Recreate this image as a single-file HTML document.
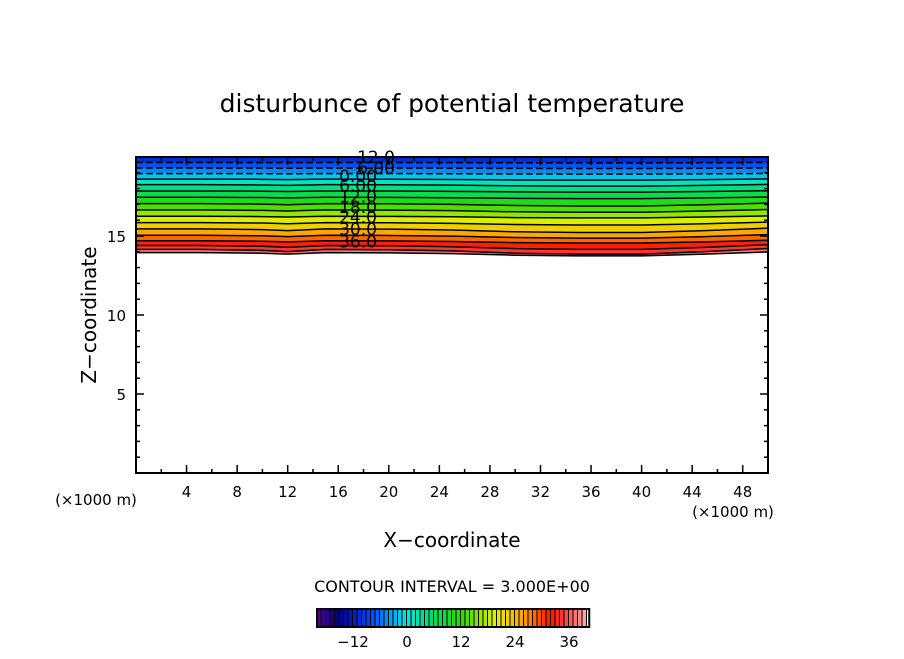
<!DOCTYPE html>
<html><head><meta charset="utf-8"><style>
body{margin:0;background:#fff;}
svg text{font-family:"DejaVu Sans","Liberation Sans",sans-serif;fill:#000;}
</style></head><body>
<svg id="chart" width="904" height="654" viewBox="0 0 904 654" xmlns="http://www.w3.org/2000/svg">
<text x="452" y="112" font-size="25" text-anchor="middle">disturbunce of potential temperature</text>
<g id="bands"></g>
<g id="lines"></g>
<g id="labels"></g>
<g id="axes"></g>
<text x="96" y="315" font-size="20" text-anchor="middle" transform="rotate(-90 96 315)">Z−coordinate</text>
<text x="452" y="547" font-size="20" text-anchor="middle">X−coordinate</text>
<text x="96" y="505" font-size="15" text-anchor="middle">(×1000 m)</text>
<text x="733" y="517" font-size="15" text-anchor="middle">(×1000 m)</text>
<text x="452" y="592" font-size="16" text-anchor="middle">CONTOUR INTERVAL = 3.000E+00</text>
<g id="cbar"></g>
</svg>
<script>
// data
const xSamples = [0, 5, 10, 12, 15, 20, 25, 30, 35, 40, 45, 50];
const levels = [-12,-9,-6,-3,0,3,6,9,12,15,18,21,24,27,30,33,36,39];
const levelZ = [20.0,19.65,19.3,18.95,18.6,18.25,17.85,17.45,17.05,16.65,16.25,15.85,15.45,15.05,14.7,14.4,14.15,13.95];
const sag = [0,0.0,-0.05,-0.12,0.0,-0.02,-0.08,-0.2,-0.25,-0.25,-0.12,0.05];
const labelLevels = ["12.0","6.00","0.00","6.00","12.0","18.0","24.0","30.0","36.0"];
const labelZ = [20.0,19.3,18.8,18.2,17.5,16.85,16.2,15.45,14.65];
const xTicks = [4,8,12,16,20,24,28,32,36,40,44,48];
const yTicks = [5,10,15];
const cbarTicks = [-12,0,12,24,36];

const X0=136,X1=768,Y0=473,Y1=157;
const sx=v=>X0+(X1-X0)*v/50;
const sy=v=>Y0-(Y0-Y1)*v/20;
const NS='http://www.w3.org/2000/svg';
function mk(t,a,p){const e=document.createElementNS(NS,t);for(const k in a)e.setAttribute(k,a[k]);p.appendChild(e);return e;}
function cmap(v){ // v from -21 to 40
  const stops=[[-21,[110,0,140]],[-15,[0,0,140]],[-8,[0,70,255]],[0,[0,230,230]],[6,[0,220,100]],[12,[40,220,0]],[20,[230,240,0]],[26,[255,160,0]],[32,[255,20,0]],[35,[255,60,60]],[40,[255,170,170]]];
  for(let i=0;i<stops.length-1;i++){const [a,ca]=stops[i],[b,cb]=stops[i+1];
    if(v<=b||i==stops.length-2){const t=Math.max(0,Math.min(1,(v-a)/(b-a)));return `rgb(${ca.map((c,j)=>Math.round(c+(cb[j]-c)*t)).join(',')})`;}}
}
function lineZ(i,k){const frac=i/(levels.length-1);return levelZ[i]+sag[k]*frac*(1+0.3*Math.sin(i*1.7));}
function pts(i){return xSamples.map((x,k)=>[sx(x),sy(Math.min(20,lineZ(i,k)))]);}
const bands=document.getElementById('bands'),lines=document.getElementById('lines');
for(let i=0;i<levels.length-1;i++){
  const top=pts(i),bot=pts(i+1);
  const d='M'+top.map(p=>p.join(',')).join('L')+'L'+bot.reverse().map(p=>p.join(',')).join('L')+'Z';
  const p=mk('path',{d:d,fill:cmap(levels[i]+1.5),stroke:cmap(levels[i]+1.5),'stroke-width':0.5},bands);
  
  
}
levels.forEach((lv,i)=>{
  const l=mk('polyline',{points:pts(i).map(p=>p.join(',')).join(' '),fill:'none',stroke:'#000','stroke-width':1.5,'stroke-dasharray':lv<0?'7,3':'none'},lines);
  
  
});
const labels=document.getElementById('labels');
labelLevels.forEach((s,i)=>{
  const t=mk('text',{x:i<=1?376:358,y:sy(labelZ[i])+6,'font-size':17,'text-anchor':'middle'},labels);
  t.textContent=s;
  
  
});
const ax=document.getElementById('axes');
mk('rect',{x:X0,y:Y1,width:X1-X0,height:Y0-Y1,fill:'none',stroke:'#000','stroke-width':2},ax);
for(let v=2;v<50;v+=2){const L=v%4==0?8:4;
  mk('line',{x1:sx(v),x2:sx(v),y1:Y0,y2:Y0-L,stroke:'#000','stroke-width':1.5},ax);
  mk('line',{x1:sx(v),x2:sx(v),y1:Y1,y2:Y1+L,stroke:'#000','stroke-width':1.5},ax);}
for(let v=1;v<20;v++){const L=v%5==0?8:4;
  mk('line',{x1:X0,x2:X0+L,y1:sy(v),y2:sy(v),stroke:'#000','stroke-width':1.5},ax);
  mk('line',{x1:X1,x2:X1-L,y1:sy(v),y2:sy(v),stroke:'#000','stroke-width':1.5},ax);}
xTicks.forEach(v=>{const t=mk('text',{x:sx(v),y:497,'font-size':15,'text-anchor':'middle'},ax);t.textContent=v;
  
  });
yTicks.forEach(v=>{const t=mk('text',{x:126,y:sy(v)+6,'font-size':15,'text-anchor':'end'},ax);t.textContent=v;
  
  });
// colorbar
const cb=document.getElementById('cbar');
const cx=v=>407+v*4.5;
for(let v=-20;v<40;v++){
  const r=mk('rect',{x:cx(v),y:609,width:4.5,height:18,fill:cmap(v+0.5)},cb);
  
  
  mk('line',{x1:cx(v)+4,x2:cx(v)+4,y1:609,y2:627,stroke:'#000','stroke-width':1},cb);
}
mk('rect',{x:cx(-20),y:609,width:cx(40.5)-cx(-20),height:18,fill:'none',stroke:'#000','stroke-width':2},cb);
cbarTicks.forEach(v=>{const t=mk('text',{x:cx(v),y:647,'font-size':15,'text-anchor':'middle'},cb);t.textContent=v<0?'−'+(-v):v;
  
  });
</script>
</body></html>
